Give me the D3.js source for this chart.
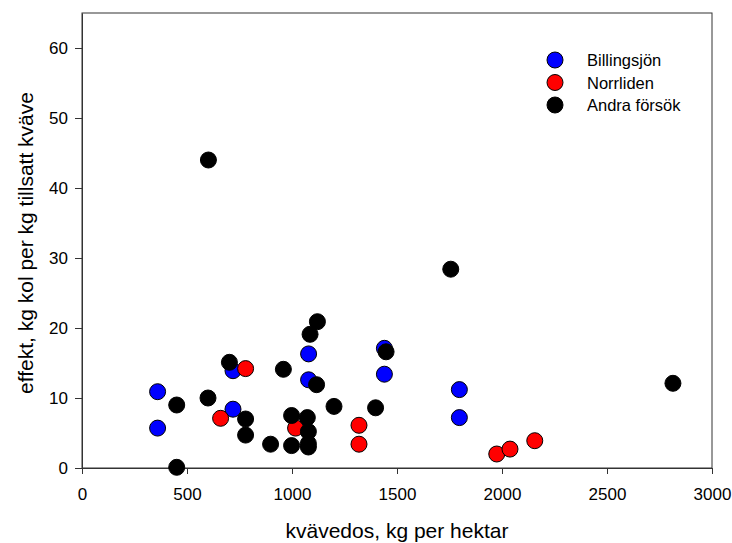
<!DOCTYPE html>
<html>
<head>
<meta charset="utf-8">
<script src="https://cdn.jsdelivr.net/npm/d3@7"></script>
<style>
  body { margin: 0; background: #fff; }
  text { font-family: "Liberation Sans", Arial, sans-serif; }
</style>
</head>
<body>
<div id="canvas"></div>
<script>
const w = 732;
const h = 543;
const margin = {left: 82, right: 20, top: 13, bottom: 75};

const seriesNames = ["Billingsjön", "Norrliden", "Andra försök"];
const seriesColors = ["#0000ff", "#ff0000", "#000000"];

// kvävedos (kg/ha), effekt (kg kol per kg N)
const billingsjonX = [360, 360, 719, 719, 1079, 1079, 1440, 1440, 1797, 1797];
const billingsjonY = [10.9, 5.7, 8.4, 13.9, 16.3, 12.6, 17.1, 13.4, 11.2, 7.2];

const norrlidenX = [660, 779, 1017, 1319, 1319, 1975, 2038, 2156];
const norrlidenY = [7.1, 14.2, 5.7, 6.1, 3.4, 2.0, 2.7, 3.9];

const andraX = [451, 451, 600, 602, 702, 779, 779, 898, 959, 998, 998, 1073, 1078, 1078, 1078, 1086, 1121, 1117, 1200, 1398, 1448, 1756, 2814];
const andraY = [9.0, 0.1, 10.0, 44.0, 15.1, 7.0, 4.7, 3.4, 14.1, 7.5, 3.2, 7.2, 5.2, 3.0, 3.5, 19.1, 20.9, 11.9, 8.8, 8.6, 16.6, 28.4, 12.1];

const xTicks = [0, 500, 1000, 1500, 2000, 2500, 3000];
const yTicks = [0, 10, 20, 30, 40, 50, 60];

let svg = d3.select("#canvas").append("svg").attr("width", w).attr("height", h);

let x = d3.scaleLinear().domain([0, 3000]).range([margin.left, w - margin.right]);
let y = d3.scaleLinear().domain([0, 65]).range([h - margin.bottom, margin.top]);

// frame
svg.append("rect")
  .attr("x", x(0)).attr("y", y(65))
  .attr("width", x(3000) - x(0)).attr("height", y(0) - y(65))
  .attr("fill", "none").attr("stroke", "#333").attr("stroke-width", 1);

let xAxis = svg.append("g")
  .attr("transform", "translate(0," + y(0) + ")")
  .call(d3.axisBottom(x).tickValues(xTicks).tickFormat(d3.format("d")).tickSizeInner(6).tickSizeOuter(0).tickPadding(14));
let yAxis = svg.append("g")
  .attr("transform", "translate(" + x(0) + ",0)")
  .call(d3.axisLeft(y).tickValues(yTicks).tickFormat(d3.format("d")).tickSizeInner(7).tickSizeOuter(0).tickPadding(7));

[xAxis, yAxis].forEach((g) => {
  g.select(".domain").attr("stroke", "#333");
  g.selectAll(".tick line").attr("stroke", "#333");
  g.selectAll(".tick text").attr("font-size", 17).attr("fill", "#000")
    .attr("font-family", "'Liberation Sans', Arial, sans-serif");
});

// axis titles
svg.append("text")
  .attr("x", 397).attr("y", 538)
  .attr("text-anchor", "middle").attr("font-size", 21)
  .text("kvävedos, kg per hektar");
svg.append("text")
  .attr("transform", "translate(33,243) rotate(-90)")
  .attr("text-anchor", "middle").attr("font-size", 21)
  .text("effekt, kg kol per kg tillsatt kväve");

const series = [
  {xs: billingsjonX, ys: billingsjonY},
  {xs: norrlidenX, ys: norrlidenY},
  {xs: andraX, ys: andraY}
];

series.forEach((s, k) => {
  svg.append("g").selectAll("circle")
    .data(s.xs.map((d, i) => [d, s.ys[i]]))
    .enter().append("circle")
    .attr("cx", (d) => x(d[0])).attr("cy", (d) => y(d[1]))
    .attr("r", 8)
    .attr("fill", seriesColors[k])
    .attr("stroke", "#000").attr("stroke-width", 1);
});

// legend
let legend = svg.append("g").attr("transform", "translate(555,60)");
seriesNames.forEach((name, i) => {
  legend.append("circle")
    .attr("cx", 0).attr("cy", i * 22.5).attr("r", 8)
    .attr("fill", seriesColors[i]).attr("stroke", "#000");
  legend.append("text")
    .attr("x", 32).attr("y", i * 22.5 + 6)
    .attr("font-size", 16.5)
    .text(name);
});
</script>
</body>
</html>
